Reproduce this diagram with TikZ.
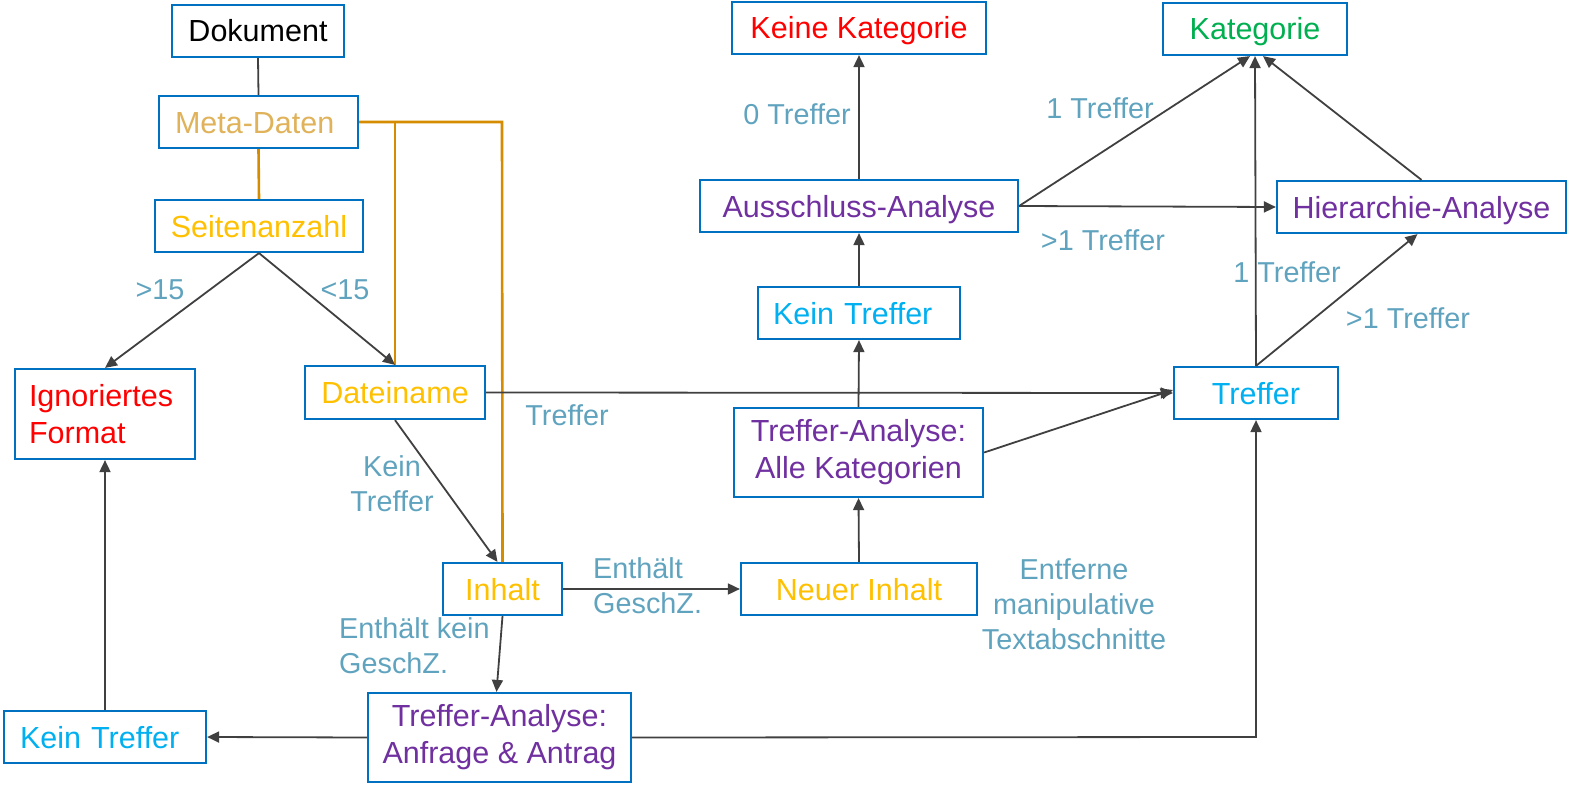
\documentclass[tikz,border=0pt]{standalone}
\usepackage{fontspec}
\setmainfont{Liberation Sans}
\usetikzlibrary{arrows.meta}
\definecolor{boxblue}{RGB}{0,112,192}
\definecolor{metac}{RGB}{224,178,90}
\definecolor{goldc}{RGB}{255,192,0}
\definecolor{redc}{RGB}{255,0,0}
\definecolor{greenc}{RGB}{0,176,80}
\definecolor{cyanc}{RGB}{0,176,240}
\definecolor{purplec}{RGB}{112,48,160}
\definecolor{labc}{RGB}{96,163,190}
\definecolor{orangec}{RGB}{214,140,0}
\definecolor{darkc}{RGB}{64,64,64}
\tikzset{
  box/.style={draw=boxblue, line width=2.2pt, fill=white, inner sep=0pt, align=center,
    font=\fontsize{30.5}{37}\selectfont},
  onebox/.style={box, text height=22pt, text depth=0pt},
  lab/.style={text=labc, inner sep=0pt, align=center, font=\fontsize{28.8}{35}\selectfont},
  conn/.style={draw=darkc, line width=1.8pt, -{Triangle[length=12pt,width=11pt]}},
  plain/.style={draw=darkc, line width=1.8pt},
  meta/.style={draw=orangec, line width=2.6pt},
}
\begin{document}
\begin{tikzpicture}[x=1pt,y=-1pt]
\useasboundingbox (0,0) rectangle (1572,792);
% nodes
\node[onebox, minimum width=172pt, minimum height=52pt] (dok) at (258,31) {Dokument};
\node[onebox, minimum width=199pt, minimum height=52pt, text=metac, text width=167pt, align=left] (meta) at (258.5,122) {Meta-Daten};
\node[onebox, minimum width=208pt, minimum height=52pt, text=goldc] (seit) at (259,226) {Seitenanzahl};
\node[box, minimum width=180pt, minimum height=90pt, text=redc, text width=152pt, align=left] (ign) at (105,414) {Ignoriertes\\Format};
\node[onebox, minimum width=180pt, minimum height=53pt, text=goldc] (datei) at (395,392.5) {Dateiname};
\node[onebox, minimum width=119pt, minimum height=52pt, text=goldc] (inhalt) at (502.5,589) {Inhalt};
\node[box, minimum width=263pt, minimum height=89pt, text=purplec] (taa) at (499.5,737.5) {Treffer-Analyse:\\Anfrage \& Antrag};
\node[onebox, minimum width=202pt, minimum height=52pt, text=cyanc, text width=170pt, align=left] (kt1) at (105,737) {Kein Treffer};
\node[onebox, minimum width=236pt, minimum height=52pt, text=goldc] (neu) at (859,589) {Neuer Inhalt};
\node[box, minimum width=249pt, minimum height=89pt, text=purplec] (tak) at (858.5,452.5) {Treffer-Analyse:\\Alle Kategorien};
\node[onebox, minimum width=202pt, minimum height=52pt, text=cyanc, text width=172pt, align=left] (kt2) at (859,313) {Kein Treffer};
\node[onebox, minimum width=318pt, minimum height=52pt, text=purplec] (aa) at (859,206) {Ausschluss-Analyse};
\node[onebox, minimum width=254pt, minimum height=52pt, text=redc] (kk) at (859,28) {Keine Kategorie};
\node[onebox, minimum width=184pt, minimum height=52pt, text=greenc] (kat) at (1255,29) {Kategorie};
\node[onebox, minimum width=289pt, minimum height=52pt, text=purplec] (ha) at (1421.5,207) {Hierarchie-Analyse};
\node[onebox, minimum width=164pt, minimum height=52pt, text=cyanc] (tr) at (1256,393) {Treffer};
% helper coordinates
\coordinate (mc1) at (395,122);
\coordinate (mc2) at (502,122);
\coordinate (bend) at (1256,737);
% connectors
\draw[plain] (dok.south) -- (meta.north);
\draw[meta] (meta.south) -- (seit.north);
\draw[meta] (meta.east) -- (mc2) -- (inhalt.north);
\draw[meta] (mc1) -- (datei.north);
\draw[conn] (seit.south) -- (ign.north);
\draw[conn] (seit.south) -- (datei.north);
\draw[conn] (kt1.north) -- (ign.south);
\draw[conn] (datei.south) -- ([xshift=-5pt]inhalt.north);
\draw[conn] (datei.east) -- (tr.west);
\draw[conn] (inhalt.east) -- (neu.west);
\draw[conn] (inhalt.south) -- ([xshift=-3pt]taa.north);
\draw[conn] (taa.west) -- (kt1.east);
\draw[conn] (taa.east) -- (bend) -- (tr.south);
\draw[conn] (neu.north) -- (tak.south);
\draw[conn] (tak.north) -- (kt2.south);
\draw[conn] (kt2.north) -- (aa.south);
\draw[conn] (tak.east) -- ([yshift=3pt]tr.west);
\draw[conn] (aa.north) -- (kk.south);
\draw[conn] (aa.east) -- ([xshift=-5pt]kat.south);
\draw[conn] (aa.east) -- (ha.west);
\draw[conn] (tr.north) -- (kat.south);
\draw[conn] (tr.north) -- ([xshift=-4pt]ha.south);
\draw[conn] (ha.north) -- ([xshift=8pt]kat.south);
% labels
\node[lab] (l1) at (160,290) {>15};
\node[lab] (l2) at (345,290) {<15};
\node[lab] (l3) at (392,484) {Kein\\Treffer};
\node[lab] (l4) at (567,415) {Treffer};
\node[lab, align=left, anchor=west] (l5) at (593,586) {Enthält\\GeschZ.};
\node[lab, align=left, anchor=west] (l6) at (339,646) {Enthält kein\\GeschZ.};
\node[lab] (l7) at (1074,604) {Entferne\\manipulative\\Textabschnitte};
\node[lab] (l8) at (797,114) {0 Treffer};
\node[lab] (l9) at (1100,108) {1 Treffer};
\node[lab] (l10) at (1103,240) {>1 Treffer};
\node[lab] (l11) at (1287,272) {1 Treffer};
\node[lab] (l12) at (1408,318) {>1 Treffer};
\end{tikzpicture}
\end{document}
